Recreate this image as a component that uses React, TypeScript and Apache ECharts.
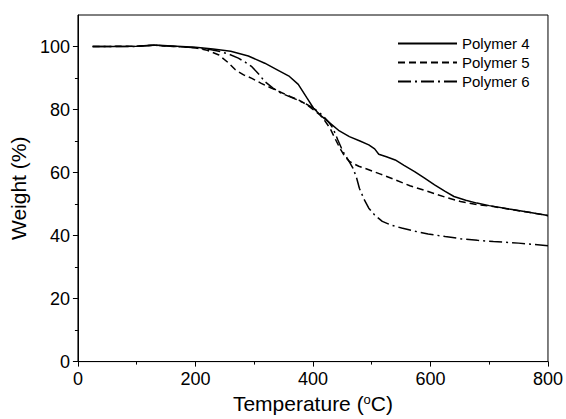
import React, { useEffect, useRef } from "react";
import * as echarts from "echarts";

const seriesNames = ["Polymer 4", "Polymer 5", "Polymer 6"];

const p4Temp = [25, 60, 100, 130, 160, 200, 230, 260, 290, 318, 340, 360, 375, 390, 401, 415, 429, 445, 462, 480, 495, 505, 512, 525, 540, 555, 573, 590, 607, 625, 640, 660, 679, 700, 734, 765, 800];
const p4Weight = [100, 100, 100.1, 100.5, 100.2, 99.8, 99.2, 98.5, 97, 94.7, 92.5, 90.5, 88, 83.6, 80.4, 77.8, 75.7, 73.2, 71.4, 70, 68.8, 67.5, 65.8, 65, 64, 62.3, 60.3, 58.2, 56.1, 54, 52.4, 51.2, 50.3, 49.5, 48.4, 47.5, 46.4];

const p5Temp = [25, 100, 130, 200, 220, 240, 255, 268, 282, 296, 312, 329, 345, 362, 376, 390, 400, 412, 420, 429, 437, 446, 454, 462, 478, 495, 515, 540, 565, 596, 625, 651, 680, 707, 740, 770, 800];
const p5Weight = [100, 100.1, 100.4, 99.6, 98.8, 97.3, 95, 92.6, 91, 89.9, 88.3, 86.8, 85.5, 84.1, 83, 81.5, 80, 78.3, 76.5, 74.1, 71, 67.7, 65.2, 63.5, 62, 60.9, 59.5, 57.7, 55.8, 54, 52.2, 50.8, 49.8, 49.2, 48.2, 47.3, 46.3];

const p6Temp = [25, 100, 130, 200, 220, 240, 258, 273, 285, 296, 308, 318, 332, 346, 360, 373, 388, 401, 410, 418, 426, 434, 442, 451, 460, 468, 474, 479, 487, 495, 505, 518, 533, 551, 573, 596, 625, 651, 680, 707, 750, 800];
const p6Weight = [100, 100, 100.4, 99.6, 99.2, 98.5, 97.5, 96.3, 95, 93.6, 91.2, 88.9, 86.8, 85.2, 84.1, 83.1, 81.8, 80.4, 79.2, 77.8, 76.2, 74.1, 70.5, 66.7, 64, 61.4, 58.5, 55, 51.5, 48.7, 46.5, 44.5, 43.3, 42.4, 41.4, 40.5, 39.7, 39, 38.5, 38.1, 37.6, 36.8];

const yMajorTicks = [0, 20, 40, 60, 80, 100];
const yMinorTicks = [10, 30, 50, 70, 90];

const zip = (xs: number[], ys: number[]) => xs.map((x, i) => [x, ys[i]]);

const FONT = "'Liberation Sans', Arial, sans-serif";

export default function App() {
  const ref = useRef<HTMLDivElement>(null);
  useEffect(() => {
    if (!ref.current) return;
    const chart = echarts.init(ref.current, undefined, { renderer: "svg" });
    const lineBase = { type: "line", symbol: "none", showSymbol: false, smooth: false, silent: true };
    chart.setOption({
      animation: false,
      backgroundColor: "#fff",
      textStyle: { fontFamily: FONT, color: "#000" },
      grid: {
        left: 76,
        right: 11,
        top: 15,
        bottom: 55,
        show: true,
        borderColor: "#000",
        borderWidth: 1,
        backgroundColor: "transparent",
      },
      legend: {
        orient: "vertical",
        left: 392,
        top: 31,
        itemWidth: 59,
        itemHeight: 14,
        itemGap: 4,
        data: seriesNames,
        itemStyle: { opacity: 0, borderWidth: 0 },
        textStyle: { fontFamily: FONT, fontSize: 15, color: "#000" },
      },
      xAxis: {
        type: "value",
        min: 0,
        max: 800,
        interval: 200,
        name: "Temperature ({sup|o}C)",
        nameLocation: "middle",
        nameGap: 29,
        nameTextStyle: {
          fontFamily: FONT,
          fontSize: 21,
          color: "#000",
          rich: {
            sup: { fontFamily: FONT, fontSize: 13, color: "#000", padding: [0, 0, 9, 0] },
          },
        },
        axisLine: { show: true, lineStyle: { color: "#000", width: 1 } },
        axisTick: { show: true, length: 5, lineStyle: { color: "#000" } },
        minorTick: { show: true, splitNumber: 2, length: 3, lineStyle: { color: "#000" } },
        axisLabel: { fontFamily: FONT, fontSize: 18, color: "#000", margin: 8 },
        splitLine: { show: false },
      },
      yAxis: [
        {
          type: "value",
          min: 0,
          max: 110,
          name: "Weight (%)",
          nameLocation: "middle",
          nameGap: 44,
          nameTextStyle: { fontFamily: FONT, fontSize: 21, color: "#000" },
          axisLine: { show: true, lineStyle: { color: "#000", width: 1 } },
          axisTick: { show: true, length: 5, customValues: yMajorTicks, lineStyle: { color: "#000" } },
          axisLabel: { fontFamily: FONT, fontSize: 18, color: "#000", margin: 8, customValues: yMajorTicks },
          splitLine: { show: false },
        },
        {
          type: "value",
          min: 0,
          max: 110,
          position: "left",
          axisLine: { show: false },
          axisTick: { show: true, length: 3, customValues: yMinorTicks, lineStyle: { color: "#000" } },
          axisLabel: { show: false },
          splitLine: { show: false },
        },
      ],
      series: [
        {
          ...lineBase,
          name: seriesNames[0],
          data: zip(p4Temp, p4Weight),
          lineStyle: { color: "#000", width: 1.5, type: "solid" },
          itemStyle: { color: "#000" },
        },
        {
          ...lineBase,
          name: seriesNames[1],
          data: zip(p5Temp, p5Weight),
          lineStyle: { color: "#000", width: 1.5, type: [7, 4] },
          itemStyle: { color: "#000" },
        },
        {
          ...lineBase,
          name: seriesNames[2],
          data: zip(p6Temp, p6Weight),
          lineStyle: { color: "#000", width: 1.5, type: [13, 4, 2, 4] },
          itemStyle: { color: "#000" },
        },
      ],
    });
    return () => chart.dispose();
  }, []);
  return (
    <div
      ref={ref}
      style={{ position: "fixed", left: 0, top: 0, width: 566, height: 419, background: "#fff" }}
    />
  );
}
